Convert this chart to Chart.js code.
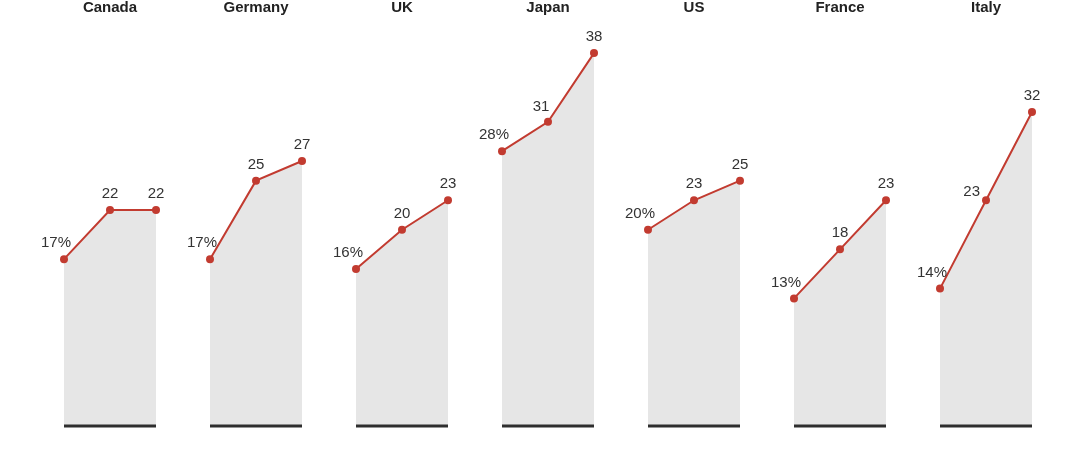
<!DOCTYPE html>
<html>
<head>
<meta charset="utf-8">
<script src="https://cdn.jsdelivr.net/npm/chart.js@4/dist/chart.umd.min.js"></script>
<style>
  html, body { margin: 0; padding: 0; background: #ffffff; }
  #wrap { width: 1079px; height: 450px; }
</style>
</head>
<body>
<div id="wrap"><canvas id="chart" width="1079" height="450"></canvas></div>
<script>
// countries, one small panel each
const countries = ["Canada", "Germany", "UK", "Japan", "US", "France", "Italy"];
// three readings per country (percent)
const firstValues = [17, 17, 16, 28, 20, 13, 14];
const secondValues = [22, 25, 20, 31, 23, 18, 23];
const thirdValues = [22, 27, 23, 38, 25, 23, 32];

// distance between panels, in units of point spacing
const panelStep = 146 / 46;
const red = "#c23b30";

const datasets = [];
countries.forEach((name, i) => {
  const x0 = i * panelStep;
  datasets.push({
    label: name,
    data: [
      { x: x0, y: firstValues[i] },
      { x: x0 + 1, y: secondValues[i] },
      { x: x0 + 2, y: thirdValues[i] },
    ],
    borderColor: red,
    borderWidth: 2,
    backgroundColor: "#e6e6e6",
    fill: "origin",
    pointRadius: 4,
    pointBackgroundColor: red,
    pointBorderWidth: 0,
    tension: 0,
    order: 1,
  });
});
// black baselines under each panel (drawn on top of the fills)
countries.forEach((name, i) => {
  const x0 = i * panelStep;
  datasets.push({
    label: name + " base",
    data: [{ x: x0, y: 0 }, { x: x0 + 2, y: 0 }],
    borderColor: "#2e2e2e",
    borderWidth: 3,
    pointRadius: 0,
    fill: false,
    clip: false,
    order: 0,
  });
});

//Plugin that writes the country names and the value labels
const labelPlugin = {
  id: "labels",
  afterDatasetsDraw(chart) {
    const ctx = chart.ctx;
    ctx.save();
    countries.forEach((name, i) => {
      const pts = chart.getDatasetMeta(i).data;
      // title
      ctx.fillStyle = "#222222";
      ctx.font = "bold 15px 'Liberation Sans', Arial, sans-serif";
      ctx.textAlign = "center";
      ctx.textBaseline = "middle";
      ctx.fillText(name, pts[1].x, 8);
      // values
      ctx.fillStyle = "#333333";
      ctx.font = "15px 'Liberation Sans', Arial, sans-serif";
      const vals = [firstValues[i], secondValues[i], thirdValues[i]];
      pts.forEach((p, j) => {
        if (j == 0) {
          ctx.textAlign = "right";
          ctx.fillText(vals[j] + "%", p.x + 7, p.y - 16);
        } else if (j == 1) {
          const rise = p.y - pts[2].y;
          if (rise > 70) {
            ctx.textAlign = "right";
            ctx.fillText(vals[j], p.x - 6, p.y - 8);
          } else if (rise > 50) {
            ctx.textAlign = "center";
            ctx.fillText(vals[j], p.x - 7, p.y - 15);
          } else {
            ctx.textAlign = "center";
            ctx.fillText(vals[j], p.x, p.y - 16);
          }
        } else {
          ctx.textAlign = "center";
          ctx.fillText(vals[j], p.x, p.y - 16);
        }
      });
    });
    ctx.restore();
  },
};

// chart area is inset by 4px on each side (point overflow)
let myChart = new Chart(document.getElementById("chart"), {
  type: "line",
  data: { datasets: datasets },
  plugins: [labelPlugin],
  options: {
    responsive: false,
    animation: false,
    layout: { padding: { top: 0, bottom: 24, left: 0, right: 0 } },
    plugins: {
      legend: { display: false },
      tooltip: { enabled: false },
    },
    scales: {
      x: {
        type: "linear",
        min: -60 / 46,
        max: (1075 - 64) / 46,
        display: false,
      },
      y: {
        min: 0,
        max: 43,
        display: false,
      },
    },
  },
});
</script>
</body>
</html>
